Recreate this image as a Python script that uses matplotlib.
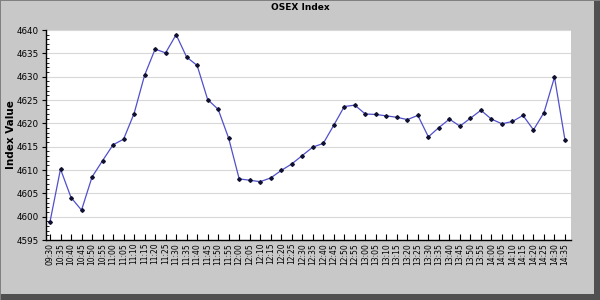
import matplotlib
matplotlib.use("Agg")
import matplotlib.pyplot as plt
from matplotlib.patches import Rectangle
from matplotlib.ticker import MultipleLocator

times = ["09:30"] + [f"{h:02d}:{m:02d}" for h in range(10, 15) for m in range(0, 60, 5)
                     if (h, m) >= (10, 35) and (h, m) <= (14, 35)]
values = [4598.9, 4610.2, 4604.1, 4601.4, 4608.5, 4612.0, 4615.4, 4616.6, 4622.1, 4630.3,
          4635.9, 4635.1, 4639.0, 4634.2, 4632.4, 4625.1, 4623.0, 4616.8, 4608.1, 4607.8,
          4607.5, 4608.3, 4609.9, 4611.3, 4613.1, 4614.9, 4615.7, 4619.6, 4623.6, 4623.9,
          4622.0, 4621.9, 4621.6, 4621.3, 4620.8, 4621.7, 4617.1, 4619.1, 4620.9, 4619.4,
          4621.1, 4622.8, 4620.9, 4619.9, 4620.4, 4621.7, 4618.6, 4622.3, 4629.9, 4616.4]
title = "OSEX Index"
ylabel = "Index Value"

W, H = 600, 300
fig = plt.figure(figsize=(6, 3), dpi=100)
fig.patch.set_facecolor("#c8c8c8")

# frame / shadow
fig.patches.append(Rectangle((1 - 6 / W, 0), 6 / W, 1, transform=fig.transFigure,
                             facecolor="#505050", edgecolor="none", zorder=0))
fig.patches.append(Rectangle((0, 0), 1, 6 / H, transform=fig.transFigure,
                             facecolor="#505050", edgecolor="none", zorder=0))
fig.patches.append(Rectangle((0, 0), 1 / W, 1, transform=fig.transFigure,
                             facecolor="#808080", edgecolor="none", zorder=0))
fig.patches.append(Rectangle((0, 1 - 1 / H), 1, 1 / H, transform=fig.transFigure,
                             facecolor="#808080", edgecolor="none", zorder=0))

left, right, top, bottom = 46, 571, 30, 240
ax = fig.add_axes([left / W, 1 - bottom / H, (right - left) / W, (bottom - top) / H])
ax.set_facecolor("white")

x = list(range(len(values)))
ax.plot(x, values, color="#5050cc", linewidth=0.9, marker="D", markersize=1.9,
        markerfacecolor="#101030", markeredgecolor="#101030", zorder=3)

ax.set_ylim(4595, 4640)
ax.set_xlim(-0.38, len(values) - 1 + 0.57)
ax.yaxis.set_major_locator(MultipleLocator(5))
ax.yaxis.set_minor_locator(MultipleLocator(1))
ax.grid(axis="y", which="major", color="#d8d8d8", linewidth=0.8)
ax.set_axisbelow(True)

ax.set_xticks(x)
ax.set_xticklabels(times, rotation=90, fontsize=5.5)
ax.tick_params(axis="x", direction="in", length=4, width=0.8, pad=2)
ax.tick_params(axis="y", which="major", direction="out", length=3, width=0.8, labelsize=6.3, pad=2)
ax.tick_params(axis="y", which="minor", direction="in", length=2, width=0.6)

for s in ["top", "right"]:
    ax.spines[s].set_visible(False)
ax.spines["left"].set_linewidth(1.0)
ax.spines["bottom"].set_linewidth(1.0)

fig.text(300 / W, 1 - 8 / H, title, ha="center", va="center", fontsize=6.5, fontweight="bold")
fig.text(11 / W, 1 - 135 / H, ylabel, ha="center", va="center", rotation=90,
         fontsize=7.5, fontweight="bold")

fig.savefig("out.png", dpi=100, facecolor=fig.get_facecolor())
